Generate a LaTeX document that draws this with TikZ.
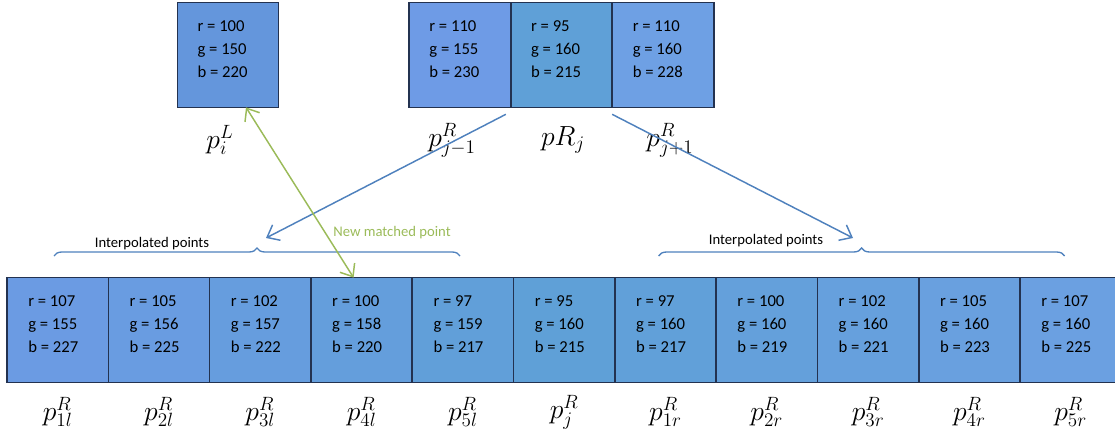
\documentclass[tikz,border=0pt]{standalone}
\usepackage{fontspec}
\usepackage{xcolor}
\usepackage{tikz}
\usetikzlibrary{arrows.meta, decorations.pathreplacing}
\newfontfamily\calib{Carlito}
\definecolor{edgeblue}{RGB}{79,129,189}
\definecolor{matchgreen}{RGB}{155,187,89}
\definecolor{boxline}{RGB}{35,50,80}

\begin{document}
\begin{tikzpicture}[x=0.75pt, y=-0.75pt,
  pix/.style={draw=boxline, line width=1.2pt, minimum width=76pt, minimum height=78.5pt, inner sep=0pt, outer sep=0pt},
  vals/.style={anchor=north west, align=left, inner sep=0pt, font=\calib\fontsize{12.5}{17}\selectfont},
  lab/.style={font=\huge},
  note/.style={font=\calib\fontsize{11}{13}\selectfont},
  link/.style={edgeblue, line width=1.1pt, -{Straight Barb[length=8pt,width=13pt]}},
  matchlink/.style={matchgreen, line width=1.1pt, {Straight Barb[length=8pt,width=13pt]}-{Straight Barb[length=8pt,width=13pt]}},
  bracket/.style={edgeblue, line width=1pt, decorate, decoration={brace, amplitude=6pt}}]
\useasboundingbox (0,0) rectangle (1115,435);
% top: left pixel and right neighbourhood
\node[pix, fill={rgb,255:red,100;green,150;blue,220}] (pl) at (228,55) {};
\node[vals] (plv) at ([shift={(20,18)}]pl.north west) {r = 100\\g = 150\\b = 220};
\node[lab] (pllab) at (220,140) {$p^L_i$};
\node[pix, fill={rgb,255:red,110;green,155;blue,230}] (tm) at (459.8,55) {};
\node[vals] (tmv) at ([shift={(20,18)}]tm.north west) {r = 110\\g = 155\\b = 230};
\node[lab] (tmlab) at (452,140) {$p^R_{j-1}$};
\node[pix, fill={rgb,255:red,95;green,160;blue,215}] (tc) at (561.5,55) {};
\node[vals] (tcv) at ([shift={(20,18)}]tc.north west) {r = 95\\g = 160\\b = 215};
\node[lab] (tclab) at (563,140) {$pR_j$};
\node[pix, fill={rgb,255:red,110;green,160;blue,228}] (tp) at (663.2,55) {};
\node[vals] (tpv) at ([shift={(20,18)}]tp.north west) {r = 110\\g = 160\\b = 228};
\node[lab] (tplab) at (670,140) {$p^R_{j+1}$};
% bottom row
\node[pix, fill={rgb,255:red,107;green,155;blue,227}] (l1) at (57.7,330) {};
\node[vals] (l1v) at ([shift={(21,18)}]l1.north west) {r = 107\\g = 155\\b = 227};
\node[lab] (l1lab) at (57.7,412) {$p^R_{1l}$};
\node[pix, fill={rgb,255:red,105;green,156;blue,225}] (l2) at (159,330) {};
\node[vals] (l2v) at ([shift={(21,18)}]l2.north west) {r = 105\\g = 156\\b = 225};
\node[lab] (l2lab) at (159,412) {$p^R_{2l}$};
\node[pix, fill={rgb,255:red,102;green,157;blue,222}] (l3) at (260.3,330) {};
\node[vals] (l3v) at ([shift={(21,18)}]l3.north west) {r = 102\\g = 157\\b = 222};
\node[lab] (l3lab) at (260.3,412) {$p^R_{3l}$};
\node[pix, fill={rgb,255:red,100;green,158;blue,220}] (l4) at (361.6,330) {};
\node[vals] (l4v) at ([shift={(21,18)}]l4.north west) {r = 100\\g = 158\\b = 220};
\node[lab] (l4lab) at (361.6,412) {$p^R_{4l}$};
\node[pix, fill={rgb,255:red,97;green,159;blue,217}] (l5) at (462.9,330) {};
\node[vals] (l5v) at ([shift={(21,18)}]l5.north west) {r = 97\\g = 159\\b = 217};
\node[lab] (l5lab) at (462.9,412) {$p^R_{5l}$};
\node[pix, fill={rgb,255:red,95;green,160;blue,215}] (pj) at (564.2,330) {};
\node[vals] (pjv) at ([shift={(21,18)}]pj.north west) {r = 95\\g = 160\\b = 215};
\node[lab] (pjlab) at (564.2,412) {$p^R_j$};
\node[pix, fill={rgb,255:red,97;green,160;blue,217}] (r1) at (665.5,330) {};
\node[vals] (r1v) at ([shift={(21,18)}]r1.north west) {r = 97\\g = 160\\b = 217};
\node[lab] (r1lab) at (665.5,412) {$p^R_{1r}$};
\node[pix, fill={rgb,255:red,100;green,160;blue,219}] (r2) at (766.8,330) {};
\node[vals] (r2v) at ([shift={(21,18)}]r2.north west) {r = 100\\g = 160\\b = 219};
\node[lab] (r2lab) at (766.8,412) {$p^R_{2r}$};
\node[pix, fill={rgb,255:red,102;green,160;blue,221}] (r3) at (868.1,330) {};
\node[vals] (r3v) at ([shift={(21,18)}]r3.north west) {r = 102\\g = 160\\b = 221};
\node[lab] (r3lab) at (868.1,412) {$p^R_{3r}$};
\node[pix, fill={rgb,255:red,105;green,160;blue,223}] (r4) at (969.4,330) {};
\node[vals] (r4v) at ([shift={(21,18)}]r4.north west) {r = 105\\g = 160\\b = 223};
\node[lab] (r4lab) at (969.4,412) {$p^R_{4r}$};
\node[pix, fill={rgb,255:red,107;green,160;blue,225}] (r5) at (1070.7,330) {};
\node[vals] (r5v) at ([shift={(21,18)}]r5.north west) {r = 107\\g = 160\\b = 225};
\node[lab] (r5lab) at (1070.7,412) {$p^R_{5r}$};
% braces and notes
\draw[bracket] (54,256) -- (460,256);
\draw[bracket] (658.6,256) -- (1064.6,256);
\node[note] (lnote) at (152,244) {Interpolated points};
\node[note] (rnote) at (766,241) {Interpolated points};
\node[note, text=matchgreen] (mnote) at (392,233) {New matched point};
% arrows
\coordinate (ltip) at (266,238);
\coordinate (rtip) at (853,238);
\draw[link] ([shift={(-5,7)}]tc.south west) -- (ltip);
\draw[link] ([shift={(0,7)}]tc.south east) -- (rtip);
\draw[matchlink] ([shift={(18,0)}]pl.south) -- ([shift={(-8,0)}]l4.north);
\end{tikzpicture}
\end{document}
